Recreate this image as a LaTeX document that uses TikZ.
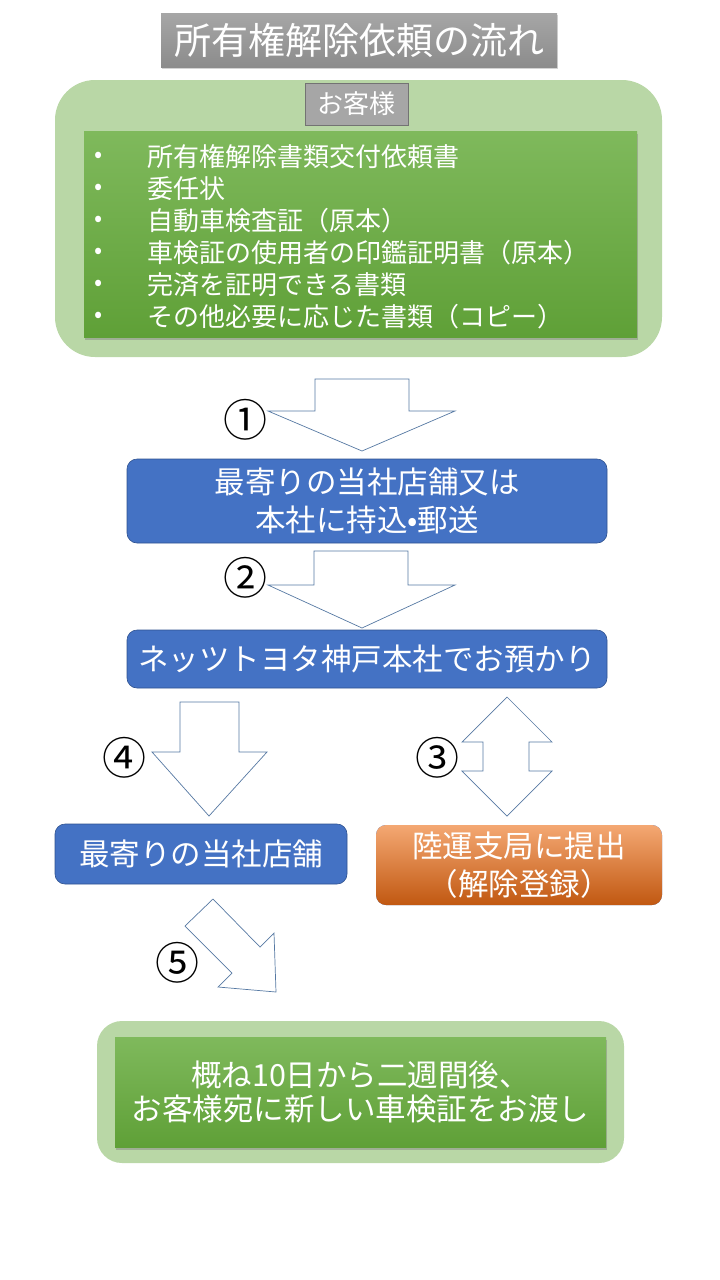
\documentclass[tikz,border=0pt]{standalone}
\usepackage{fontspec}
\setmainfont{Noto Sans CJK JP}
\usetikzlibrary{shadows}
\definecolor{titletop}{RGB}{166,166,166}
\definecolor{titlebot}{RGB}{140,140,140}
\definecolor{palegreen}{RGB}{185,215,166}
\definecolor{leaftop}{RGB}{127,185,92}
\definecolor{leafbot}{RGB}{95,160,55}
\definecolor{custgray}{RGB}{166,166,166}
\definecolor{boxblue}{RGB}{68,114,196}
\definecolor{boxblueline}{RGB}{47,82,143}
\definecolor{orangetop}{RGB}{244,168,115}
\definecolor{orangemid}{RGB}{236,125,49}
\definecolor{orangebot}{RGB}{193,88,17}
\definecolor{arrowline}{RGB}{86,121,163}

\begin{document}
\begin{tikzpicture}[x=1pt,y=-1pt,
    stepbox/.style={draw=boxblueline,line width=0.6pt,fill=boxblue,rounded corners=10pt,
      text=white,align=center,inner sep=0pt,font=\fontsize{30.5}{38}\selectfont},
    greenbox/.style={top color=leaftop,bottom color=leafbot,draw=none,inner sep=0pt,
      drop shadow={opacity=0.45,shadow xshift=1pt,shadow yshift=-3pt}},
    palebox/.style={fill=palegreen,draw=none,inner sep=0pt},
    blockarrow/.style={draw=arrowline,line width=0.7pt,fill=white,line join=miter},
    stepnum/.style={font=\fontsize{44}{44}\selectfont,inner sep=0pt}]
  \useasboundingbox (0,0) rectangle (720,1280);

  % title
  \node[top color=titletop,bottom color=titlebot,inner sep=0pt,
    minimum width=396pt,minimum height=54pt,text=white,font=\fontsize{37}{40}\selectfont,
    drop shadow={opacity=0.35,shadow xshift=1pt,shadow yshift=-2pt}]
    (title) at (359,40) {所有権解除依頼の流れ};

  % customer documents
  \node[palebox,rounded corners=40pt,minimum width=607pt,minimum height=277pt]
    (custarea) at (358.5,218.5) {};
  \node[fill=custgray,draw=gray!90!black,line width=0.6pt,inner sep=0pt,
    minimum width=103pt,minimum height=42pt,text=white,font=\fontsize{26}{28}\selectfont]
    (cust) at (356.5,104) {お客様};
  \node[greenbox,minimum width=553pt,minimum height=206pt] (docs) at (360.5,234) {};
  \foreach \txt [count=\i] in {所有権解除書類交付依頼書,委任状,自動車検査証（原本）,
      車検証の使用者の印鑑証明書（原本）,完済を証明できる書類,その他必要に応じた書類（コピー）} {
    \node[text=white,font=\fontsize{24}{24}\selectfont,inner sep=0pt]
      (bul\i) at (99,{125+32*\i}) {•};
    \node[text=white,font=\fontsize{26}{26}\selectfont,inner sep=0pt,anchor=west]
      (doc\i) at (147,{125+32*\i}) {\txt};
  }

  % steps
  \node[stepbox,minimum width=480pt,minimum height=84pt] (store) at (367,501)
    {\raisebox{-4pt}{最寄りの当社店舗又は}\\\raisebox{-4pt}{本社に持込•郵送}};
  \node[stepbox,minimum width=480pt,minimum height=58pt] (hq) at (367,659)
    {ネッツトヨタ神戸本社でお預かり};
  \node[stepbox,minimum width=292pt,minimum height=60pt] (shop) at (201,854)
    {最寄りの当社店舗};
  \node[stepbox,draw=none,top color=orangetop,middle color=orangemid,bottom color=orangebot,
    minimum width=286pt,minimum height=80pt] (bureau) at (519,865)
    {陸運支局に提出\\（解除登録）};

  % result
  \node[palebox,rounded corners=25pt,minimum width=527pt,minimum height=142pt]
    (resultarea) at (360.5,1092) {};
  \node[greenbox,minimum width=491pt,minimum height=110pt,text=white,align=center,
    font=\fontsize{30.5}{34}\selectfont] (result) at (360.5,1092)
    {概ね10日から二週間後、\\お客様宛に新しい車検証をお渡し};

  % block arrows
  \draw[blockarrow] (315,379) -- (409,379) -- (409,411) -- (455,411) -- (362,451)
    -- (268,411) -- (315,411) -- cycle;
  \draw[blockarrow] (314,551) -- (408,551) -- (408,585) -- (455,585) -- (362,628)
    -- (268,585) -- (314,585) -- cycle;
  \draw[blockarrow] (180,702) -- (239,702) -- (239,752) -- (267,752) -- (209,816)
    -- (152,752) -- (180,752) -- cycle;
  \draw[blockarrow] (507,697) -- (552,742) -- (529,742) -- (529,771) -- (552,771)
    -- (507,816) -- (462,771) -- (483,771) -- (483,742) -- (462,742) -- cycle;
  \draw[blockarrow] (213,899) -- (260,947) -- (274,933) -- (276,992) -- (218,987)
    -- (232,973) -- (185,926) -- cycle;

  % step numbers
  \node[stepnum] (n1) at (245,420) {①};
  \node[stepnum] (n2) at (245,578) {②};
  \node[stepnum] (n3) at (437,758) {③};
  \node[stepnum] (n4) at (124,758) {④};
  \node[stepnum] (n5) at (177,963) {⑤};
\end{tikzpicture}
\end{document}
